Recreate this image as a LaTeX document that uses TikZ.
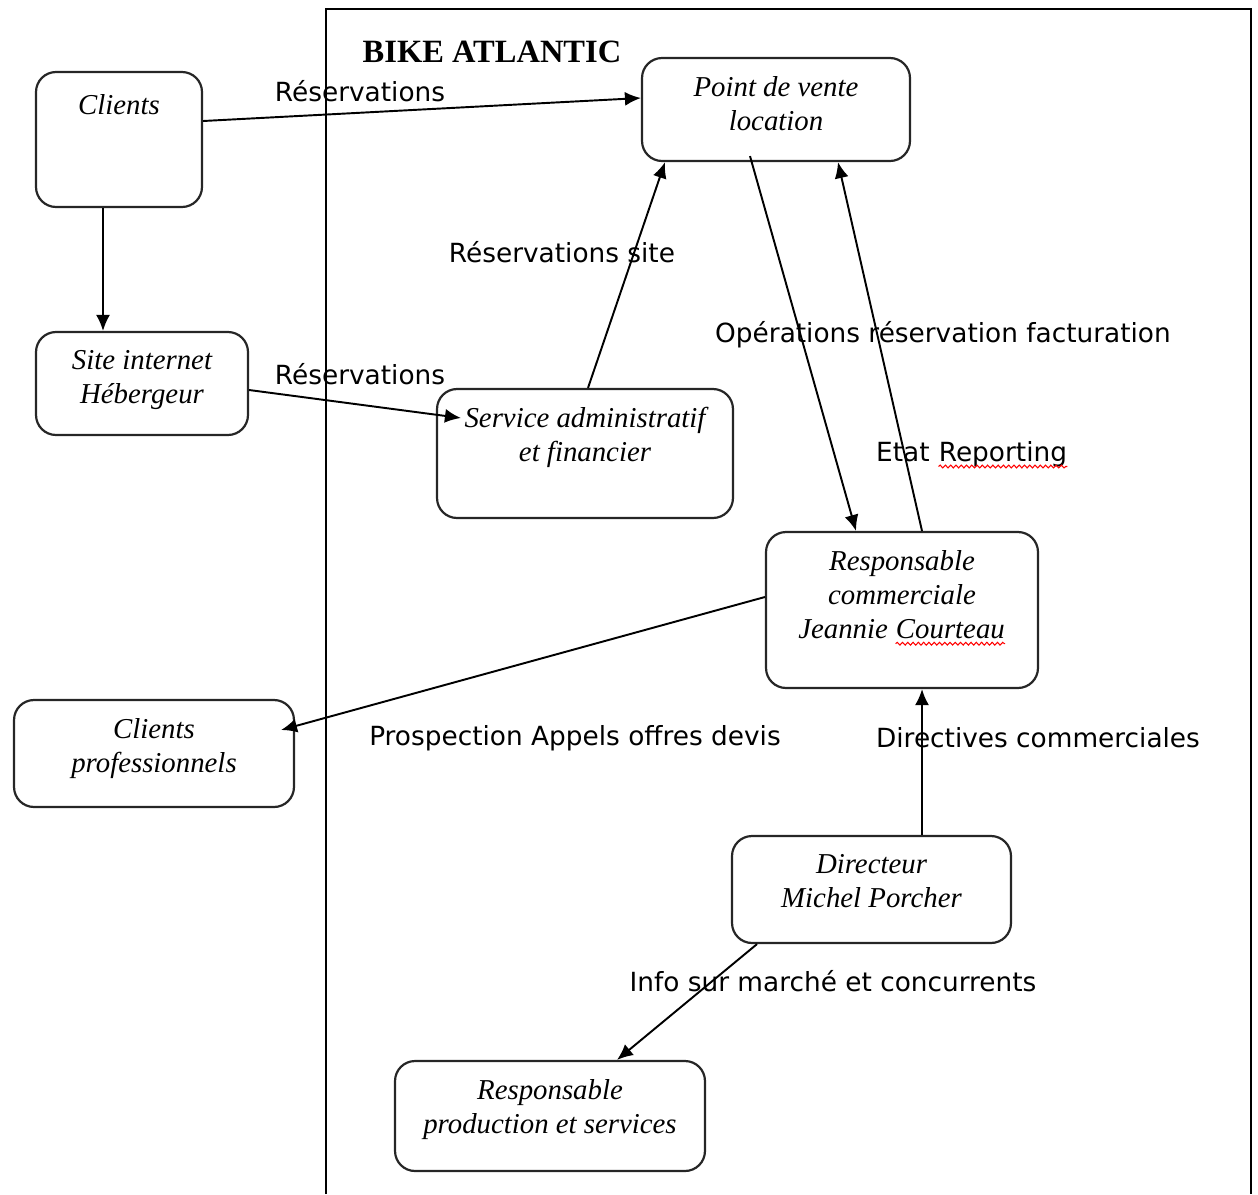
\documentclass[tikz,border=0pt]{standalone}
\usepackage{fontspec}
\setmainfont{Liberation Serif}
\newfontfamily\flowfont{DejaVu Sans}
\usetikzlibrary{positioning, arrows.meta, calc, decorations.pathmorphing}

% red wavy underline (spell check marks)
\newcommand{\spellmark}[1]{\tikz[baseline=(w.base)]{\node[inner sep=0pt] (w) {#1};
    \draw[red, line width=0.6pt, decorate, decoration={snake, amplitude=0.8pt, segment length=3pt}]
        ([yshift=-2.8pt]w.base west) -- ([yshift=-2.8pt]w.base east);}}

\begin{document}
\begin{tikzpicture}[
    x=0.02cm, y=-0.02cm,
    >=Latex,
    box/.style={
        rectangle,
        rounded corners=0.4cm,
        draw=black!85,
        line width=1.25pt,
        inner sep=0pt
    },
    boxtext/.style={
        anchor=north,
        inner sep=0pt,
        yshift=-0.38cm,
        align=center,
        font=\fontsize{16.4}{19.5}\selectfont\itshape
    },
    flow/.style={font=\flowfont\fontsize{15}{17}\selectfont, inner sep=0pt},
    arrow/.style={-{Latex[length=3.2mm, width=2.8mm]}, line width=1.1pt},
    frame/.style={line width=1.4pt}
]
\useasboundingbox (0,0) rectangle (1258,1194);

% company frame
\draw[frame] (326,1194) |- (1251,9) -- (1251,1194);
\node[font=\fontsize{18.5}{21}\selectfont\bfseries] (title) at (492,52) {BIKE ATLANTIC};

% actors
\node[box, minimum width=3.32cm, minimum height=2.70cm,
      label={[boxtext, yshift=-0.08cm]north:Clients}] (clients) at (119,139.5) {};
\node[box, minimum width=4.24cm, minimum height=2.06cm,
      label={[boxtext]north:Site internet\\Hébergeur}] (site) at (142,383.5) {};
\node[box, minimum width=5.36cm, minimum height=2.06cm,
      label={[boxtext]north:Point de vente\\location}] (vente) at (776,109.5) {};
\node[box, minimum width=5.92cm, minimum height=2.58cm,
      label={[boxtext]north:Service administratif\\et financier}] (admin) at (585,453.5) {};
\node[box, minimum width=5.44cm, minimum height=3.12cm,
      label={[boxtext]north:Responsable\\commerciale\\Jeannie \spellmark{Courteau}}] (commerciale) at (902,610) {};
\node[box, minimum width=5.60cm, minimum height=2.14cm,
      label={[boxtext]north:Clients\\professionnels}] (pros) at (154,753.5) {};
\node[box, minimum width=5.58cm, minimum height=2.14cm,
      label={[boxtext]north:Directeur\\Michel Porcher}] (directeur) at (871.5,889.5) {};
\node[box, minimum width=6.20cm, minimum height=2.20cm,
      label={[boxtext]north:Responsable\\production et services}] (production) at (550,1116) {};

% flow labels
\node[flow] (resa1) at (360,91) {Réservations};
\node[flow] (resa2) at (360,374) {Réservations};
\node[flow] (resasite) at (562,252) {Réservations site};
\node[flow] (operations) at (943,335) {Opérations réservation facturation};
\node[flow] (reporting) at (972,455) {Etat \spellmark{Reporting}};
\node[flow] (prospection) at (575,738) {Prospection Appels offres devis};
\node[flow] (directives) at (1038,738) {Directives commerciales};
\node[flow] (info) at (833,981) {Info sur marché et concurrents};

% flows
\draw[arrow] ($(clients.east)+(0,-18.5)$) -- ($(vente.west)+(0,-11.5)$);
\draw[arrow] ($(clients.south)+(-16,0)$) -- ($(site.north)+(-39,0)$);
\draw[arrow] ($(site.east)+(0,6.5)$) -- ($(admin.west)+(25,-35.5)$);
\draw[arrow] ($(admin.north)+(3,0)$) -- ($(vente.south)+(-111,0)$);
\draw[arrow] ($(vente.south)+(-26,-6)$) -- ($(commerciale.north)+(-46,0)$);
\draw[arrow] ($(commerciale.north)+(20,0)$) -- ($(vente.south)+(62,0)$);
\draw[arrow] ($(commerciale.west)+(0,-13)$) -- ($(pros.east)+(-14,-23.5)$);
\draw[arrow] ($(directeur.north)+(50.5,0)$) -- ($(commerciale.south)+(20,0)$);
\draw[arrow] ($(directeur.south)+(-114.5,0)$) -- ($(production.north)+(67,0)$);

\end{tikzpicture}
\end{document}
